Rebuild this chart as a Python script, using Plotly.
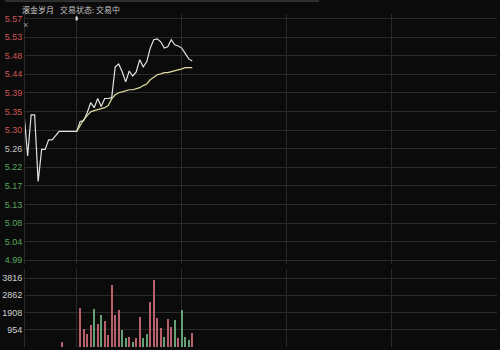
import numpy as np
import plotly.graph_objects as go

# ---------------- data ----------------
title_name = "滚金岁月"
title_status = "交易状态: 交易中"

# time slots (2-minute slots; 0 = market open, negatives = pre-market)
price_slots = [-15, -14, -13, -12, -11, -10, -9, -8, -7, -5] + list(range(0, 34))
price_values = [5.339, 5.240, 5.339, 5.339, 5.179, 5.256, 5.256, 5.279, 5.279, 5.299,
                5.299, 5.323, 5.325, 5.344, 5.368, 5.356, 5.378, 5.359, 5.378, 5.378,
                5.380, 5.454, 5.461, 5.442, 5.418, 5.444, 5.432, 5.442, 5.471, 5.454,
                5.466, 5.499, 5.519, 5.521, 5.514, 5.499, 5.502, 5.519, 5.507, 5.504,
                5.499, 5.485, 5.473, 5.468]

avg_slots = list(range(0, 34))
avg_values = [5.299, 5.313, 5.327, 5.337, 5.346, 5.349, 5.351, 5.354, 5.356, 5.361,
              5.377, 5.387, 5.392, 5.394, 5.397, 5.399, 5.399, 5.401, 5.404, 5.409,
              5.413, 5.423, 5.430, 5.435, 5.437, 5.440, 5.440, 5.442, 5.444, 5.447,
              5.449, 5.452, 5.452, 5.452]

vol_slots = [-4] + list(range(1, 34))
vol_values = [280, 2150, 990, 720, 1210, 2090, 1270, 1760, 1430, 660,
              3420, 1760, 2040, 940, 500, 550, 280, 500, 1650, 500,
              720, 2480, 3690, 1600, 1050, 550, 1540, 1100, 1490, 500,
              2040, 550, 390, 770]
vol_up = [1, 1, 1, 1, 1, 0, 1, 0, 1, 1,
          1, 1, 1, 0, 0, 1, 0, 1, 1, 0,
          0, 1, 1, 1, 1, 0, 1, 1, 0, 1,
          0, 0, 0, 1]

price_tick_labels = ["5.57", "5.53", "5.48", "5.44", "5.39", "5.35", "5.30",
                     "5.26", "5.22", "5.17", "5.13", "5.08", "5.04", "4.99"]
vol_tick_values = [954, 1908, 2862, 3816]
vol_tick_labels = ["954", "1908", "2862", "3816"]

session_grid_slots = [0, 30, 60, 90, 120]

# ---------------- style ----------------
BG = "#0b0b0b"
GRID = "#2a2a2a"
RED = "#cf5454"
GREEN = "#5aa65e"
NEUTRAL = "#c8c8c8"
BAR_RED = "#b8606c"
BAR_GREEN = "#64a074"
FONT = "Liberation Sans, Arial, sans-serif"
CJK = "Noto Sans CJK SC, sans-serif"

price_top_val = float(price_tick_labels[0])
price_bot_val = float(price_tick_labels[-1])
price_tickvals = list(np.linspace(price_top_val, price_bot_val, len(price_tick_labels)))


def label_color(v):
    if v > 5.28:
        return RED
    if v > 5.24:
        return NEUTRAL
    return GREEN


price_ticktext = [f"<span style='color:{label_color(float(t))}'>{t}</span>" for t in price_tick_labels]

fig = go.Figure()

fig.add_trace(go.Scatter(x=price_slots, y=price_values, mode="lines",
                         line=dict(color="#e2e2e2", width=1.2), xaxis="x", yaxis="y",
                         hoverinfo="skip"))
fig.add_trace(go.Scatter(x=avg_slots, y=avg_values, mode="lines",
                         line=dict(color="#e0dba0", width=1.2), xaxis="x", yaxis="y",
                         hoverinfo="skip"))
fig.add_trace(go.Bar(x=vol_slots, y=vol_values, width=0.38,
                     marker=dict(color=[BAR_RED if u else BAR_GREEN for u in vol_up], line=dict(width=0)),
                     xaxis="x", yaxis="y2", hoverinfo="skip"))

# pixel layout helpers
H = 350
mt, mb = 14, 2
ph = H - mt - mb
px_per_price = (261 - 18.5) / (price_top_val - price_bot_val)
price_range = [price_bot_val - 4 / px_per_price, price_top_val + (18.5 - mt) / px_per_price]
price_dom = [(H - mb - 265) / ph, 1.0]
px_per_vol = 17.3 / 954
vol_dom = [0.0, (H - mb - 270) / ph]
vol_range = [0, (H - mb - 270) / px_per_vol]

fig.update_layout(
    width=500, height=350,
    margin=dict(l=20, r=3, t=mt, b=mb),
    paper_bgcolor=BG, plot_bgcolor=BG,
    showlegend=False, bargap=0,
    font=dict(family=FONT, size=9, color=NEUTRAL),
    xaxis=dict(range=[-14.75, 120], tickvals=session_grid_slots, showticklabels=False,
               showgrid=True, gridcolor=GRID, gridwidth=1, zeroline=False,
               anchor="y2", ticks="", showline=False),
    yaxis=dict(domain=price_dom, range=price_range, tickvals=price_tickvals,
               ticktext=price_ticktext, showgrid=True, gridcolor=GRID, zeroline=False,
               ticks="", showline=True, linecolor=GRID, anchor="x",
               tickfont=dict(family=FONT, size=9)),
    yaxis2=dict(domain=vol_dom, range=vol_range, tickvals=vol_tick_values,
                ticktext=vol_tick_labels, showgrid=True, gridcolor=GRID, zeroline=False,
                ticks="", showline=True, linecolor=GRID, anchor="x",
                tickfont=dict(family=FONT, size=9, color="#d0d0d0")),
)

title_y = 1 + (14 - 9.5) / ph
# title texts
fig.add_annotation(text=title_name, xref="paper", yref="paper", x=0, y=title_y,
                   xanchor="left", yanchor="middle", xshift=-5, showarrow=False,
                   font=dict(family=CJK, size=8, color="#d0d0d0"))
fig.add_annotation(text=title_status, xref="paper", yref="paper", x=0, y=title_y,
                   xanchor="left", yanchor="middle", xshift=33, showarrow=False,
                   font=dict(family=CJK, size=8, color="#c0c0c0"))
# small cross in the corner
fig.add_annotation(text="×", xref="paper", yref="paper", x=0, y=1,
                   xanchor="left", yanchor="top", xshift=-4, yshift=-4, showarrow=False,
                   font=dict(family=FONT, size=9, color="#a0a0a0"))
# open-time marker
fig.add_shape(type="rect", xref="x", yref="paper", x0=-0.3, x1=0.3,
              y0=1 - 6.5 / ph, y1=1 - 2.5 / ph, fillcolor="#e8e8e8", line=dict(width=0))
# top border line
fig.add_shape(type="line", xref="paper", yref="paper", x0=-20 / 477, x1=297 / 477,
              y0=1 + 13 / ph, y1=1 + 13 / ph, line=dict(color="#555555", width=1))

fig.write_html("out.html")
